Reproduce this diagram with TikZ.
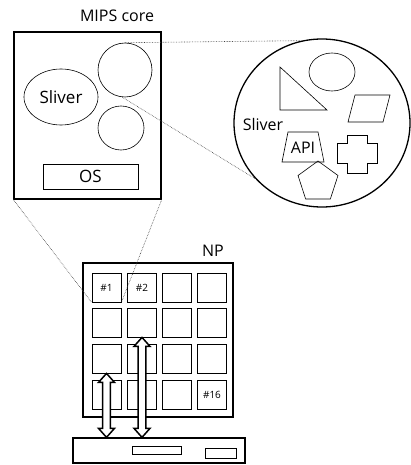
\documentclass[tikz,border=0pt]{standalone}
\usepackage{fontspec}
\setmainfont{Open Sans}
\usetikzlibrary{arrows.meta,shapes.geometric,calc}
\newcommand\dblarr[2]{%
  \path[arrowbody] let \p1=(#1), \p2=(#2) in
    (\x1,\y1) -- ({\x1-8pt},{\y1+9pt}) -- ({\x1-3.8pt},{\y1+9pt}) -- ({\x1-3.8pt},{\y2-9pt})
    -- ({\x1-8pt},{\y2-9pt}) -- (\x1,\y2) -- ({\x1+8pt},{\y2-9pt}) -- ({\x1+3.8pt},{\y2-9pt})
    -- ({\x1+3.8pt},{\y1+9pt}) -- ({\x1+8pt},{\y1+9pt}) -- cycle;}
\begin{document}
\begin{tikzpicture}[x=1pt,y=-1pt,
  box/.style={draw,line width=1.3pt},
  thinshape/.style={draw,line width=0.6pt},
  tile/.style={draw,line width=0.8pt,minimum width=29pt,minimum height=29pt,inner sep=0pt,font=\fontsize{9}{10}\selectfont},
  zoomline/.style={densely dotted,line width=0.6pt,black!75},
  arrowbody/.style={draw,line width=1.5pt,fill=white,line join=miter},
  lbl/.style={font=\fontsize{16}{18}\selectfont,inner sep=0pt}]
\useasboundingbox (0,0) rectangle (411,465);
% MIPS core
\node[lbl] (mipst) at (117,16) {MIPS core};
\node[box,minimum width=147pt,minimum height=167pt,inner sep=0pt] (mips) at (87.5,115.5) {};
\node[thinshape,ellipse,minimum width=74pt,minimum height=56pt,inner sep=0pt,font=\fontsize{17}{19}\selectfont] (sl) at (61,97) {Sliver};
\node[thinshape,circle,minimum size=54pt,inner sep=0pt] (c1) at (125,70) {};
\node[thinshape,ellipse,minimum width=46pt,minimum height=44pt,inner sep=0pt] (c2) at (121,128) {};
\node[thinshape,line width=0.8pt,minimum width=95pt,minimum height=25pt,inner sep=0pt,font=\fontsize{17}{19}\selectfont] (os) at (90.5,176.5) {OS};
% big circle
\node[box,ellipse,minimum width=176pt,minimum height=168pt,inner sep=0pt] (big) at (322,123) {};
\draw[thinshape] (280,67) -- (280,110) -- (327,110) -- cycle;
\node[thinshape,ellipse,minimum width=46pt,minimum height=38pt,inner sep=0pt] (el) at (332,72) {};
\draw[thinshape] (355,95) -- (390,95) -- (383,122) -- (348,122) -- cycle;
\node[lbl] (slt) at (263,125) {Sliver};
\draw[thinshape] (288,132) -- (318,132) -- (324,162) -- (282,162) -- cycle;
\node[lbl] (api) at (303,148) {API};
\draw[thinshape] (347,135) -- (367,135) -- (367,143) -- (377,143) -- (377,163) -- (367,163) -- (367,173) -- (347,173) -- (347,163) -- (337,163) -- (337,143) -- (347,143) -- cycle;
\node[thinshape,regular polygon,regular polygon sides=5,minimum size=42pt,inner sep=0pt] (pent) at (318,182) {};
% zoom lines
\draw[zoomline] (c1.north) -- (big.104);
\draw[zoomline] (c1.-96) -- (big.-140);
% NP
\node[lbl] (npt) at (213,251) {NP};
\node[box,minimum width=150pt,minimum height=154pt,inner sep=0pt] (np) at (158,340) {};
\foreach \r/\y in {1/287.5,2/322.5,3/358.5,4/394.5}{
  \foreach \c/\x in {1/106.5,2/142,3/177,4/212}{
    \node[tile] (t\r\c) at (\x,\y) {};
  }
}
\node[font=\fontsize{10}{11}\selectfont,inner sep=0pt] at (t11) {\#1};
\node[font=\fontsize{10}{11}\selectfont,inner sep=0pt] at (t12) {\#2};
\node[font=\fontsize{10}{11}\selectfont,inner sep=0pt] at (t44) {\#16};
\draw[zoomline] (mips.south west) -- (t11.south west);
\draw[zoomline] (mips.south east) -- (t11.south east);
% board
\node[box,minimum width=172pt,minimum height=25pt,inner sep=0pt] (bd) at (159,450.5) {};
\node[thinshape,line width=0.8pt,minimum width=49pt,minimum height=8pt,inner sep=0pt] (r1) at (156.5,450) {};
\node[thinshape,line width=0.8pt,minimum width=31pt,minimum height=10pt,inner sep=0pt] (r2) at (220.5,453) {};
\coordinate (a1) at (bd.north -| t31.south);
\coordinate (a2) at (bd.north -| t22.south);
\dblarr{a1}{t31.south}
\dblarr{a2}{t22.south}
\end{tikzpicture}
\end{document}
